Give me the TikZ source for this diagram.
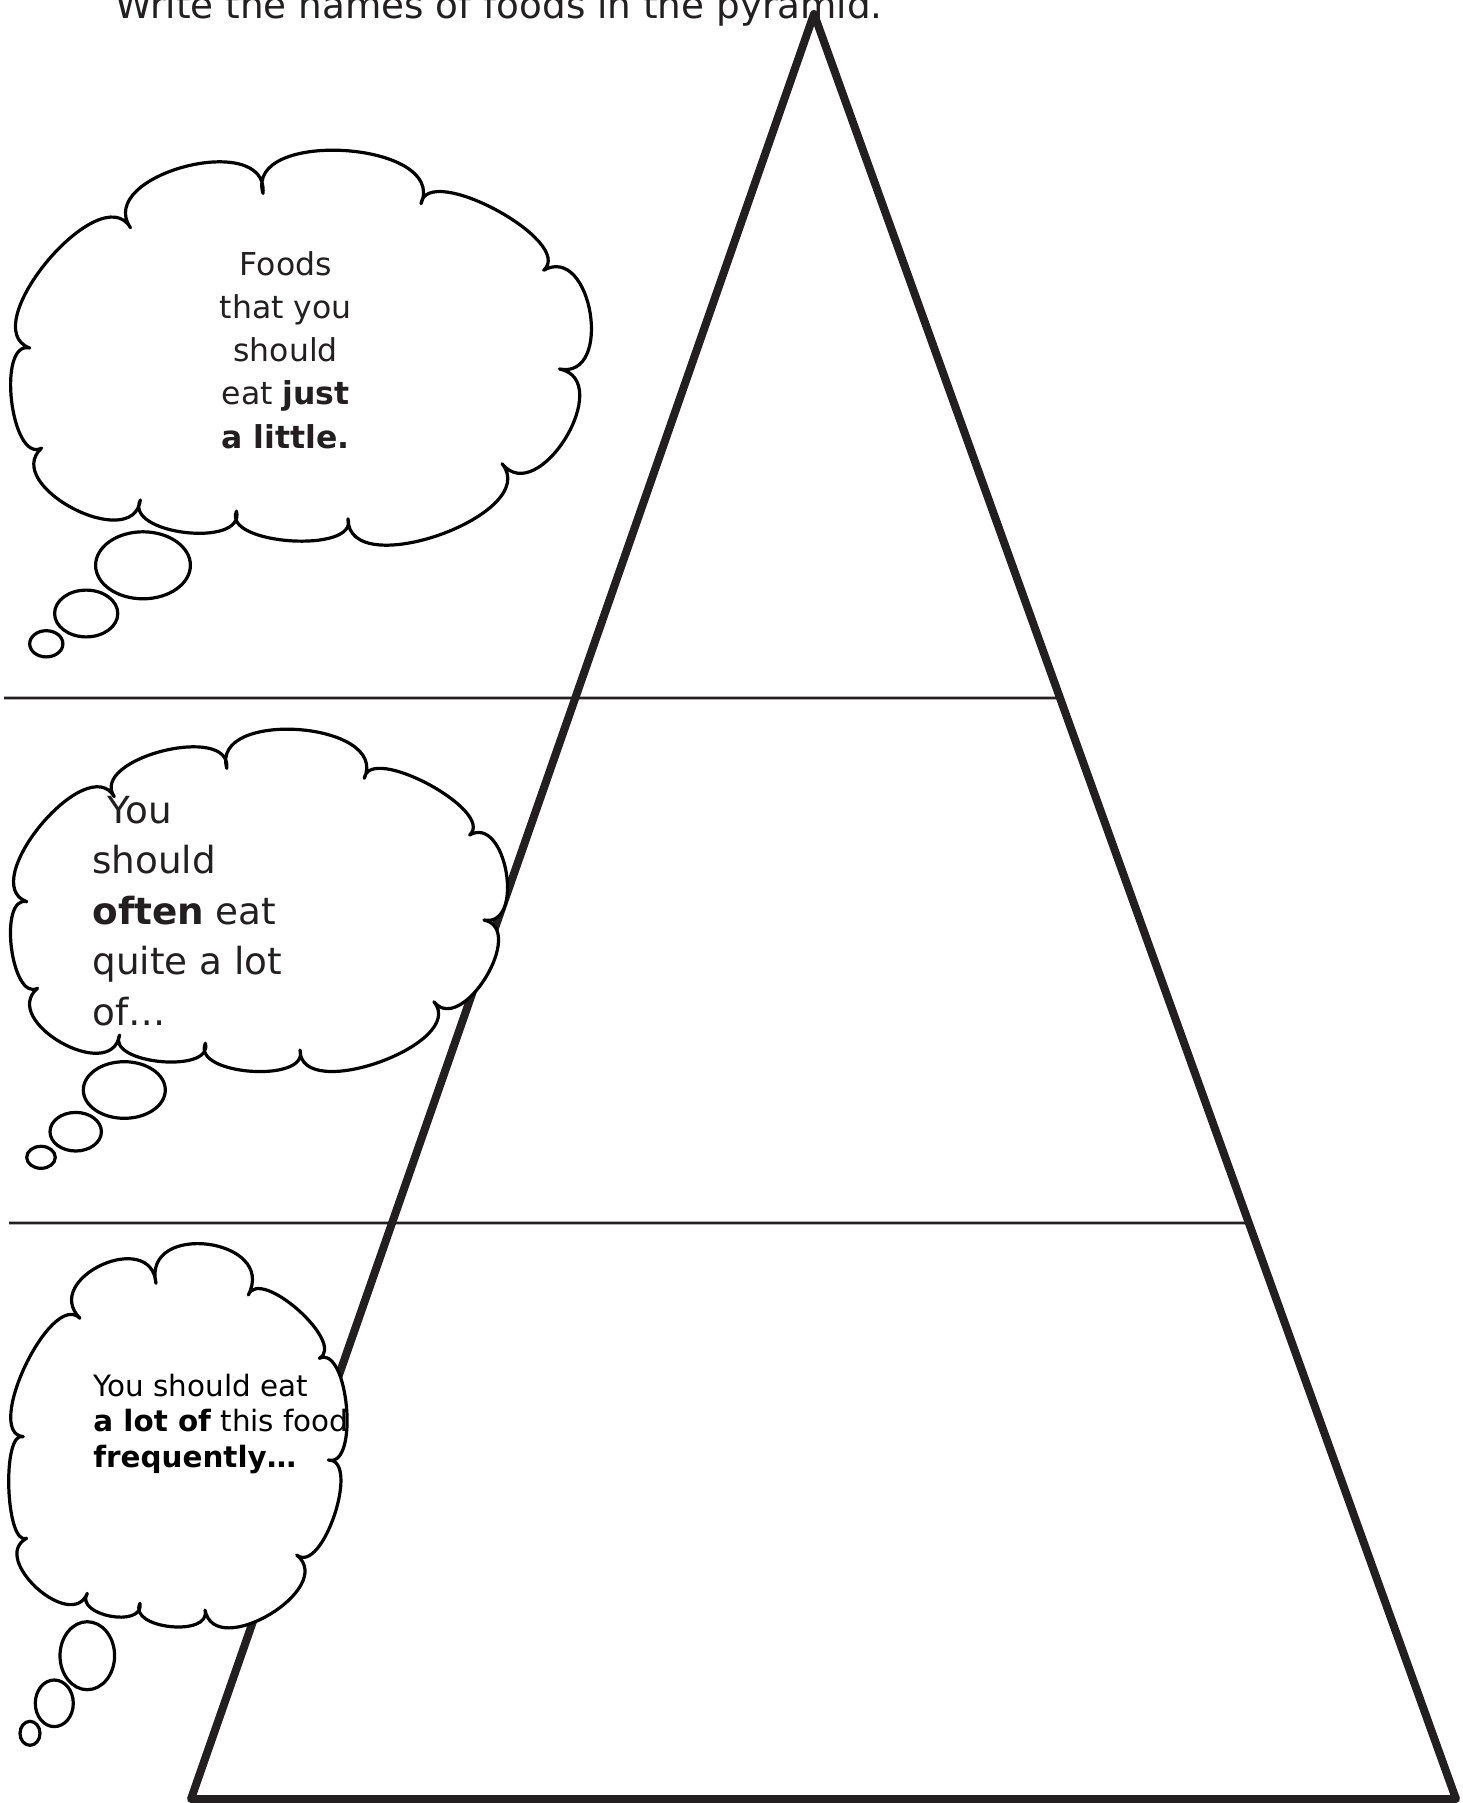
\documentclass[tikz,border=0pt]{standalone}
\usepackage{fontspec}
\setmainfont{DejaVu Sans}
\usetikzlibrary{calc}
\definecolor{ink}{HTML}{231F20}

\tikzset{
  pyr/.style={line width=4pt, draw=ink, line join=round},
  rule/.style={line width=1.3pt, draw=ink},
  cloudline/.style={line width=1.6pt, draw=black, fill=white, line join=round},
  lobe/.style={bend left=110, looseness=1.05*#1},
  bubble/.style={line width=1.6pt, draw=black, fill=white},
  say/.style={inner sep=0pt, text=ink},
}

\begin{document}
\begin{tikzpicture}[x=0.5pt, y=-0.5pt]
\useasboundingbox (0,0) rectangle (1462,1803);
\fill[white] (0,0) rectangle (1462,1803);

% heading, cut by the top edge
\node[say, anchor=base west, font=\fontsize{18.65}{22}\selectfont] (title) at (115,19) {Write the names of foods in the pyramid.};

% the pyramid
\coordinate (apex) at (814,14);
\coordinate (bl) at (191,1799);
\coordinate (br) at (1456,1799);
\draw[pyr] (apex) -- (br) -- (bl) -- cycle;

% levels
\coordinate (r1) at ($(apex)!0.3832!(br)$);
\coordinate (r2) at ($(apex)!0.6773!(br)$);
\draw[rule] (4,698) -- (r1);
\draw[rule] (9,1223) -- (r2);

% top cloud
\draw[cloudline] (29.7,348)
  \foreach \x/\y/\l in {130.5/227.8/0.93, 263/193.4/1.15, 421/203.7/1.05, 543.7/270.2/0.75,
    559.5/369/1.35, 502/463.7/1.28, 348/518.8/0.97, 236.5/511.2/0.8, 140.4/499.9/0.97,
    41.5/448.2/1.2, 29.7/348/0.83} { to[lobe=\l] (\x,\y) } -- cycle;
\draw[bubble] (143,565.3) ellipse [x radius=47.4, y radius=33.5];
\draw[bubble] (86.2,613.5) ellipse [x radius=31.6, y radius=23.4];
\draw[bubble] (46.3,643.8) ellipse [x radius=16.6, y radius=13.1];

% middle cloud
\draw[cloudline] (26.8,901.7)
  \foreach \x/\y/\l in {114.3/796.7/0.97, 226.8/768.3/0.97, 364.3/778.3/1.1, 469.6/835/0.73,
    483.9/920/1.2, 433.9/1001.7/1.14, 300/1050/0.93, 205.4/1043.3/0.9, 119.6/1035/0.9,
    37.5/988.3/1.3, 26.8/901.7/0.83} { to[lobe=\l] (\x,\y) } -- cycle;
\draw[bubble] (124.3,1090) ellipse [x radius=41, y radius=28.3];
\draw[bubble] (75.7,1131.7) ellipse [x radius=25.7, y radius=19.3];
\draw[bubble] (41,1157.3) ellipse [x radius=14.3, y radius=11];

% bottom cloud
\draw[cloudline] (80,1318.3)
  \foreach \x/\y/\l in {156/1283.3/1.63, 248.3/1295/1.68, 319.3/1358.3/0.8, 328.3/1460/0.77,
    296.7/1555/0.8, 205/1610/1.2, 140/1603.3/1.06, 87.3/1593.3/1.17, 26.7/1538.3/1.27,
    23.3/1436.7/0.55, 80/1318.3/0.76} { to[lobe=\l] (\x,\y) } -- cycle;
\draw[bubble] (87.3,1655.7) ellipse [x radius=27.3, y radius=34];
\draw[bubble] (54.3,1703.3) ellipse [x radius=19, y radius=23.3];
\draw[bubble] (30,1733.3) ellipse [x radius=10, y radius=12];

% what goes in each level (base = last line)
\node[say, anchor=base, align=center, font=\fontsize{15.75}{21.65}\selectfont] (little) at (285.7,448.2)
  {Foods\\that you\\should\\eat \textbf{just}\\\textbf{a little.}};
\node[say, anchor=base west, align=left, font=\fontsize{18.65}{25.3}\selectfont] (often) at (92,1025.4)
  {\hspace*{0.4em}You\\should\\\textbf{often} eat\\quite a lot\\of…};
\node[say, anchor=base west, align=left, text=black, font=\fontsize{14.7}{17.75}\selectfont] (lots) at (93,1467)
  {You should eat\\\textbf{a lot of} this food\\\textbf{frequently…}};
\end{tikzpicture}
\end{document}
